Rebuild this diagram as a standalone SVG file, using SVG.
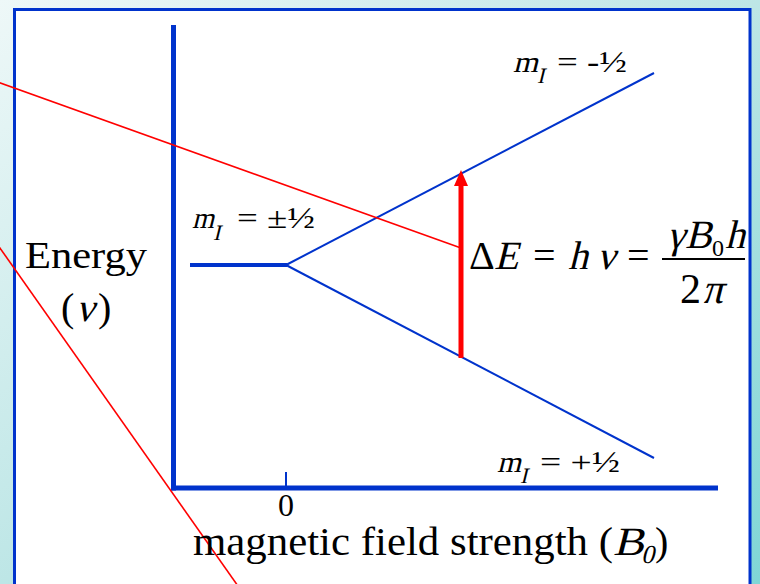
<svg xmlns="http://www.w3.org/2000/svg" width="760" height="584" viewBox="0 0 760 584">
<defs>
<linearGradient id="bg" x1="0" y1="0" x2="1" y2="1">
<stop offset="0" stop-color="#eef8f8"/>
<stop offset="0.5" stop-color="#bde6e6"/>
<stop offset="1" stop-color="#7fd6d6"/>
</linearGradient>
<style>
.t{font-family:"Liberation Serif","Times New Roman",serif;fill:#000}
.ax{stroke:#0033cc;stroke-width:5;fill:none}
.bl{stroke:#0033cc;stroke-width:2;fill:none}
.rd{stroke:#ff0000;stroke-width:1.6;fill:none}
</style>
</defs>
<rect x="0" y="0" width="760" height="584" fill="url(#bg)"/>
<rect x="14.5" y="9.5" width="735.5" height="600" fill="#ffffff" stroke="#0033cc" stroke-width="3"/>

<g id="axes">
<line class="ax" x1="173.5" y1="25" x2="173.5" y2="490.5"/>
<line class="ax" x1="171" y1="488" x2="718" y2="488"/>
<line x1="286" y1="472" x2="286" y2="488" stroke="#0033cc" stroke-width="2"/>
</g>

<g id="connectors">
<line x1="190" y1="265" x2="287" y2="265" stroke="#0033cc" stroke-width="4"/>
<line class="bl" x1="286" y1="265" x2="654" y2="73"/>
<line class="bl" x1="286" y1="265" x2="654" y2="458"/>
<line x1="461" y1="358" x2="461" y2="182" stroke="#ff0000" stroke-width="5"/>
<polygon points="461,170 454,186 468,186" fill="#ff0000"/>
<line class="rd" x1="-5" y1="81" x2="461" y2="248"/>
<line class="rd" x1="-5" y1="241" x2="245" y2="596"/>
</g>

<g id="label-energy">
<text class="t" x="25" y="268" font-size="38" textLength="122" lengthAdjust="spacingAndGlyphs">Energy</text>
<text class="t" x="61" y="321" font-size="40">(</text>
<text class="t" transform="translate(76,321) skewX(-14)" font-size="40">ν</text>
<text class="t" x="98" y="321" font-size="40">)</text>
</g>

<g id="label-zero">
<text class="t" x="286" y="516" font-size="32" text-anchor="middle">0</text>
</g>

<g id="label-field">
<text class="t" x="193" y="555" font-size="40" textLength="420" lengthAdjust="spacingAndGlyphs">magnetic field strength (</text>
<text class="t" transform="translate(613,555) skewX(-14)" font-size="40" textLength="31" lengthAdjust="spacingAndGlyphs">B</text>
<text class="t" transform="translate(641,563) skewX(-14)" font-size="26">0</text>
<text class="t" x="655" y="555" font-size="40">)</text>
</g>

<g id="label-mid">
<text class="t" transform="translate(192,228) skewX(-14)" font-size="30" textLength="22" lengthAdjust="spacingAndGlyphs">m</text>
<text class="t" transform="translate(213,240) skewX(-14)" font-size="22">I</text>
<text class="t" x="237" y="228" font-size="30" textLength="78" lengthAdjust="spacingAndGlyphs">= ±½</text>
</g>

<g id="label-upper">
<text class="t" transform="translate(513,72) skewX(-14)" font-size="30" textLength="25" lengthAdjust="spacingAndGlyphs">m</text>
<text class="t" transform="translate(537,83) skewX(-14)" font-size="22">I</text>
<text class="t" x="557" y="72" font-size="30" textLength="70" lengthAdjust="spacingAndGlyphs">= -½</text>
</g>

<g id="label-lower">
<text class="t" transform="translate(497,472) skewX(-14)" font-size="30" textLength="24" lengthAdjust="spacingAndGlyphs">m</text>
<text class="t" transform="translate(520,483) skewX(-14)" font-size="22">I</text>
<text class="t" x="540" y="472" font-size="30" textLength="80" lengthAdjust="spacingAndGlyphs">= +½</text>
</g>

<g id="equation">
<text class="t" x="469" y="269" font-size="40">Δ</text>
<text class="t" transform="translate(494,269) skewX(-14)" font-size="40">E</text>
<text class="t" x="533" y="269" font-size="40">=</text>
<text class="t" transform="translate(568,269) skewX(-14)" font-size="40">h</text>
<text class="t" transform="translate(597,269) skewX(-14)" font-size="40">ν</text>
<text class="t" x="627" y="269" font-size="40">=</text>
<line x1="662" y1="259" x2="745" y2="259" stroke="#000" stroke-width="1.8"/>
<text class="t" transform="translate(667,248) skewX(-14)" font-size="40">γ</text>
<text class="t" transform="translate(685,248) skewX(-14)" font-size="40">B</text>
<text class="t" x="712" y="256" font-size="24">0</text>
<text class="t" transform="translate(725,248) skewX(-14)" font-size="40">h</text>
<text class="t" x="680" y="303" font-size="42">2</text>
<text class="t" transform="translate(702,303) skewX(-14)" font-size="42">π</text>
</g>
</svg>
